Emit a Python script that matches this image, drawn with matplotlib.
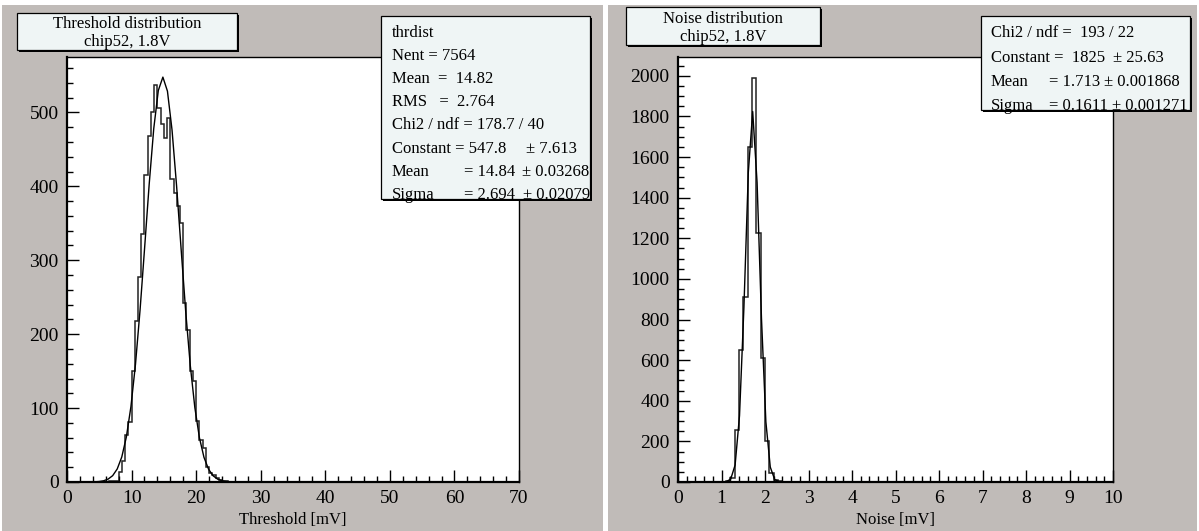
import numpy as np
import matplotlib
matplotlib.use("Agg")
import matplotlib.pyplot as plt
from matplotlib.patches import Rectangle
from matplotlib.ticker import MultipleLocator

# ---------------- data ----------------
thr_bin_width = 0.5
thr_first_edge = 6.5
thr_counts = [1, 1, 2, 13, 29, 63, 81, 150, 218, 277, 335, 416, 468, 500, 537,
              506, 484, 466, 492, 410, 391, 373, 351, 242, 205, 150, 137, 82,
              57, 46, 20, 12, 9, 6, 3, 1, 1]
thr_fit = dict(const=547.8, mean=14.84, sigma=2.694)
thr_xrange = (0, 70)
thr_ymax = 575

noise_bin_width = 0.1
noise_first_edge = 1.1
noise_counts = [3, 20, 255, 652, 912, 1648, 1988, 1224, 611, 202, 45, 8, 3, 1]
noise_fit = dict(const=1825, mean=1.713, sigma=0.1611)
noise_xrange = (0, 10)
noise_ymax = 2093

thr_title = ["Threshold distribution", "chip52, 1.8V"]
noise_title = ["Noise distribution", "chip52, 1.8V"]
thr_xlabel = "Threshold [mV]"
noise_xlabel = "Noise [mV]"

# ---------------- style ----------------
W, H = 1199, 531
BG = "#c0bbb8"
BOX = "#eff5f5"
SERIF = ["Liberation Serif", "DejaVu Serif"]
plt.rcParams["font.family"] = SERIF

fig = plt.figure(figsize=(W / 100, H / 100), dpi=100, facecolor="white")


def fx(px):
    return px / W


def fy(py):
    return 1 - py / H


def prect(x0, y0, x1, y1, **kw):
    r = Rectangle((fx(x0), fy(y1)), fx(x1) - fx(x0), fy(y0) - fy(y1),
                  transform=fig.transFigure, **kw)
    fig.patches.append(r)
    return r


def pave(x0, y0, x1, y1):
    prect(x0 + 2, y0 + 2, x1 + 2, y1 + 2, facecolor="black", edgecolor="none", zorder=5)
    prect(x0, y0, x1, y1, facecolor=BOX, edgecolor="black", linewidth=0.9, zorder=6)


def ftext(px, py, s, **kw):
    kw.setdefault("fontsize", 12)
    kw.setdefault("va", "baseline")
    kw.setdefault("ha", "left")
    fig.text(fx(px), fy(py), s, zorder=7, **kw)


# pads
prect(2, 5, 603, 531, facecolor=BG, edgecolor="none", zorder=-2)
prect(608, 5, 1197, 531, facecolor=BG, edgecolor="none", zorder=-2)


def make_axes(x0, y0, x1, y1):
    ax = fig.add_axes([fx(x0), fy(y1), fx(x1) - fx(x0), fy(y0) - fy(y1)])
    ax.set_zorder(1)
    ax.set_facecolor("white")
    for s in ("left", "bottom"):
        ax.spines[s].set_linewidth(1.6)
    for s in ("top", "right"):
        ax.spines[s].set_linewidth(1.0)
    ax.tick_params(which="both", direction="in", top=False, right=False,
                   labelsize=14, width=1.0, colors="black")
    ax.tick_params(which="major", length=8.5, pad=6)
    ax.tick_params(which="minor", length=4.3)
    return ax


def draw_hist(ax, first, width, counts, fit, xr, ymax):
    counts = np.asarray(counts, dtype=float)
    edges = first + width * np.arange(len(counts) + 1)
    ax.stairs(counts, edges, color="#222222", linewidth=1.1, baseline=0)
    xf = np.linspace(xr[0], xr[1], 100)
    yf = fit["const"] * np.exp(-0.5 * ((xf - fit["mean"]) / fit["sigma"]) ** 2)
    ax.plot(xf, yf, color="black", linewidth=1.0)
    ax.set_xlim(*xr)
    ax.set_ylim(0, ymax)


# ---- left panel ----
ax1 = make_axes(67, 57, 519, 482)
draw_hist(ax1, thr_first_edge, thr_bin_width, thr_counts, thr_fit, thr_xrange, thr_ymax)
ax1.xaxis.set_major_locator(MultipleLocator(10))
ax1.xaxis.set_minor_locator(MultipleLocator(2))
ax1.yaxis.set_major_locator(MultipleLocator(100))
ax1.yaxis.set_minor_locator(MultipleLocator(20))
ftext(293, 524, thr_xlabel, ha="center")

pave(17, 13, 237, 50)
ftext(127, 28, thr_title[0], ha="center", fontsize=12)
ftext(127, 46, thr_title[1], ha="center", fontsize=12)

pave(381, 16, 590, 199)
ftext(392, 37, "thrdist")
ftext(392, 60, "Nent = 7564")
ftext(392, 83, "Mean  =  14.82")
ftext(392, 106, "RMS   =  2.764")
ftext(392, 129, "Chi2 / ndf = 178.7 / 40")
ftext(392, 153, "Constant = 547.8")
ftext(526, 153, "± 7.613")
ftext(392, 176, "Mean")
ftext(464, 176, "= 14.84")
ftext(522, 176, "± 0.03268")
ftext(392, 199, "Sigma")
ftext(464, 199, "= 2.694")
ftext(523, 199, "± 0.02079")

# ---- right panel ----
ax2 = make_axes(678, 57, 1113, 482)
draw_hist(ax2, noise_first_edge, noise_bin_width, noise_counts, noise_fit, noise_xrange, noise_ymax)
ax2.xaxis.set_major_locator(MultipleLocator(1))
ax2.xaxis.set_minor_locator(MultipleLocator(0.2))
ax2.yaxis.set_major_locator(MultipleLocator(200))
ax2.yaxis.set_minor_locator(MultipleLocator(50))
ftext(896, 524, noise_xlabel, ha="center")

pave(626, 7, 820, 45)
ftext(723, 23, noise_title[0], ha="center", fontsize=12)
ftext(723, 41, noise_title[1], ha="center", fontsize=12)

pave(981, 16, 1190, 110)
ftext(991, 37, "Chi2 / ndf =  193 / 22")
ftext(991, 62, "Constant =  1825")
ftext(1113, 62, "± 25.63")
ftext(991, 86, "Mean")
ftext(1049, 86, "= 1.713")
ftext(1104, 86, "± 0.001868")
ftext(991, 110, "Sigma")
ftext(1049, 110, "= 0.1611")
ftext(1112, 110, "± 0.001271")

fig.savefig("out.png", dpi=100, facecolor=fig.get_facecolor())
